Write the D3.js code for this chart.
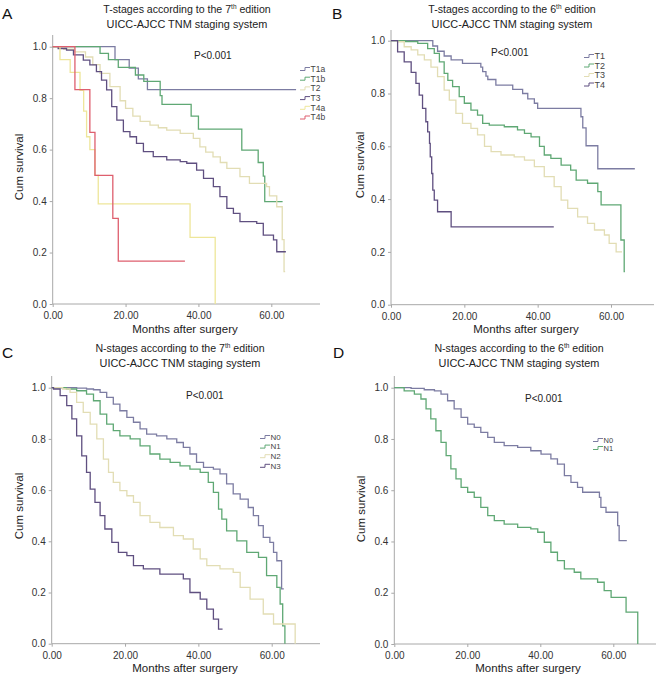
<!DOCTYPE html>
<html><head><meta charset="utf-8">
<script src="https://cdn.jsdelivr.net/npm/d3@7"></script>
<style>body{margin:0;background:#fff}svg{display:block;font-family:"Liberation Sans",Arial,sans-serif}</style>
</head><body><svg id="c" width="662" height="678"></svg>
<script>
// ---- Data: [months, cumulative survival] step points ----
const xTicks = [0, 20, 40, 60];
const xTickLabels = ["0.00", "20.00", "40.00", "60.00"];
const yTicks = [0, 0.2, 0.4, 0.6, 0.8, 1.0];
const yTickLabels = ["0.0", "0.2", "0.4", "0.6", "0.8", "1.0"];
const pLabel = "P<0.001";

const A_T1a = [[0,1],[17.1,0.95],[21,0.917],[23.5,0.875],[26,0.833],[66.8,0.833]];
const A_T1b = [[0,1],[13,0.974],[15.3,0.95],[18,0.92],[22.7,0.89],[25,0.865],[29.5,0.81],[30,0.776],[38,0.73],[40,0.68],[51.9,0.598],[56.4,0.55],[57.8,0.497],[58.2,0.398],[63.1,0.398]];
const A_T2 = [[0,1],[3,0.99],[6,0.98],[9,0.96],[11,0.93],[13,0.896],[15.7,0.845],[18.5,0.79],[20,0.76],[22,0.73],[24,0.71],[26.7,0.695],[29,0.685],[31.3,0.676],[35,0.663],[38.6,0.644],[40.4,0.611],[42,0.59],[44,0.572],[46,0.55],[47.8,0.527],[51.4,0.495],[54,0.469],[58.7,0.456],[59.5,0.42],[61.5,0.378],[63,0.25],[63.5,0.126],[63.8,0.126]];
const A_T3 = [[0,1],[1.5,0.993],[3.8,0.987],[5.7,0.968],[8.4,0.948],[10.2,0.929],[12,0.903],[13.4,0.87],[14.8,0.832],[16.2,0.767],[17.6,0.715],[19.4,0.67],[21.2,0.65],[23,0.624],[24.9,0.592],[27.6,0.573],[31.3,0.56],[35,0.553],[36.8,0.547],[39.5,0.52],[41.4,0.488],[44.1,0.456],[45.9,0.417],[47.8,0.372],[49.6,0.352],[51.4,0.32],[56,0.313],[57.8,0.268],[60.6,0.249],[61.5,0.203],[64,0.203]];
const A_T4a = [[0,1],[2,0.95],[4.8,0.9],[7.5,0.83],[8.5,0.75],[9.3,0.65],[10.2,0.6],[11.6,0.5],[12.5,0.389],[37.7,0.259],[44.6,0]];
const A_T4b = [[0,1],[6.1,0.833],[10.2,0.667],[11.6,0.5],[16.5,0.333],[18,0.167],[36.3,0.167]];

const B_T1 = [[0,1],[11.4,0.98],[12.7,0.96],[14.5,0.942],[16.4,0.927],[19.5,0.914],[24.5,0.9],[25,0.883],[25.9,0.866],[26.4,0.853],[28.6,0.832],[33.2,0.816],[35.9,0.8],[37.3,0.78],[39.1,0.763],[40,0.744],[51.8,0.712],[52.3,0.67],[53.2,0.602],[56.4,0.515],[66.5,0.515]];
const B_T2 = [[0,1],[4,0.997],[7.3,0.99],[10,0.97],[11.8,0.952],[13.2,0.92],[14.5,0.876],[15.5,0.85],[16.8,0.826],[18.6,0.788],[20,0.763],[21.8,0.737],[23.6,0.718],[25,0.687],[26.8,0.68],[30.9,0.674],[34.5,0.662],[36.4,0.649],[38.2,0.636],[40.5,0.6],[41.8,0.567],[43.6,0.554],[46.4,0.529],[49,0.51],[50.5,0.472],[53.6,0.46],[56.4,0.428],[57.3,0.378],[62.7,0.245],[63.6,0.125],[63.8,0.125]];
const B_T3 = [[0,1],[1.8,0.996],[3.6,0.977],[5.5,0.965],[7.3,0.946],[9.1,0.927],[10.9,0.9],[12.7,0.864],[14.5,0.813],[15.9,0.775],[17.7,0.725],[19.5,0.687],[21.8,0.668],[23.6,0.643],[25.5,0.6],[27.3,0.58],[30,0.567],[33.6,0.56],[36.4,0.548],[39.1,0.523],[41.8,0.485],[44.5,0.447],[46.4,0.396],[48.2,0.365],[50.9,0.333],[53.6,0.308],[55.5,0.283],[58.2,0.264],[59.5,0.232],[61.4,0.2],[63,0.2]];
const B_T4 = [[0,1],[1.8,0.958],[3.6,0.92],[5.5,0.88],[6.8,0.838],[7.7,0.794],[8.6,0.744],[9.5,0.693],[10,0.655],[10.5,0.611],[10.7,0.56],[11.1,0.497],[11.4,0.434],[11.8,0.396],[12.7,0.352],[16.4,0.295],[44.4,0.295]];

const C_N0 = [[0,1],[6.8,0.998],[9.5,0.995],[11.4,0.992],[13.2,0.982],[15,0.962],[16.8,0.936],[18.6,0.91],[20.5,0.884],[22.3,0.865],[24.1,0.839],[25.9,0.819],[28.6,0.812],[31.4,0.8],[34.1,0.786],[35.9,0.767],[37.7,0.741],[39.5,0.708],[41.4,0.689],[44.1,0.682],[45.9,0.663],[47.7,0.624],[49.5,0.585],[51.4,0.565],[53.6,0.532],[55,0.5],[56.4,0.461],[57.7,0.415],[59.5,0.396],[60.5,0.357],[61.4,0.324],[62.7,0.214],[63.3,0.214]];
const C_N1 = [[0,1],[4,0.995],[6.8,0.988],[9.5,0.975],[11.4,0.949],[13.2,0.897],[15,0.858],[16.8,0.832],[18.6,0.812],[21.4,0.8],[24.1,0.773],[26.8,0.741],[29.5,0.721],[32.3,0.708],[35,0.695],[37.7,0.682],[40.5,0.669],[42.7,0.63],[44.1,0.591],[45.5,0.526],[46.4,0.487],[47.7,0.441],[50.5,0.402],[53.2,0.357],[56.4,0.337],[58.6,0.266],[61.4,0.22],[62.3,0.155],[63,0.07],[63.6,0]];
const C_N2 = [[0,1],[3,0.995],[5,0.982],[6.8,0.943],[8.6,0.904],[10.5,0.858],[12.3,0.8],[14.1,0.721],[15.5,0.669],[16.8,0.63],[18.6,0.598],[20.5,0.578],[22.3,0.552],[24.1,0.5],[26.8,0.474],[29.5,0.454],[33.2,0.422],[35.9,0.409],[38.6,0.37],[40.5,0.331],[42.3,0.305],[45.9,0.292],[49.5,0.279],[51.4,0.22],[54.1,0.174],[57.7,0.116],[60.5,0.077],[66.4,0]];
const C_N3 = [[0,1],[0.5,0.995],[2.3,0.969],[4.1,0.93],[5.5,0.878],[6.8,0.812],[8.2,0.734],[9.5,0.669],[10.5,0.604],[11.8,0.552],[13.2,0.5],[14.5,0.448],[16.4,0.396],[18.2,0.357],[20.5,0.344],[22.3,0.305],[25,0.292],[29.5,0.272],[35.9,0.253],[37.7,0.2],[40.5,0.174],[42.3,0.135],[44.1,0.096],[45.5,0.057],[46.6,0.057]];

const D_N0 = [[0,1],[4.6,0.997],[8.2,0.992],[11,0.988],[12.8,0.975],[14.6,0.949],[16.4,0.917],[18.3,0.884],[20.1,0.858],[21.9,0.845],[23.7,0.826],[25.6,0.806],[27.4,0.787],[30.1,0.774],[33.8,0.767],[37.4,0.754],[40.2,0.741],[42.9,0.722],[44.7,0.702],[46.6,0.657],[48.4,0.631],[50.2,0.611],[51.6,0.592],[56.2,0.572],[56.6,0.533],[58,0.514],[61.2,0.462],[61.6,0.403],[63.7,0.403]];
const D_N1 = [[0,1],[2.7,0.988],[5.5,0.975],[7.3,0.956],[8.7,0.917],[10,0.878],[11.4,0.832],[12.8,0.787],[14.2,0.735],[15.5,0.683],[16.9,0.644],[18.3,0.611],[20.1,0.592],[21.9,0.572],[23.7,0.533],[25.6,0.501],[27.4,0.481],[30.1,0.468],[33.8,0.455],[37.4,0.449],[39.3,0.436],[41.1,0.397],[42.9,0.358],[44.7,0.325],[46.6,0.293],[49.3,0.28],[51.1,0.254],[55.7,0.241],[57.5,0.208],[59.4,0.182],[63.5,0.124],[66.7,0]];

const COL = {blue:"#7c7ca2", green:"#5fa874", beige:"#e2ddb4", purple:"#5f4f80", yellow:"#eee69a", red:"#de5f6e"};

const panels = [
  {letter:"A", lx:2, ly:19, title:["T-stages according to the 7","th"," edition"], title2:"UICC-AJCC TNM staging system", tcx:187, ty:13,
   x0:52.7, x60:271.3, xEnd:320, y0:304, y1:46.7, yTop:35, px:194, py:59,
   leg:{x:300, y:69, dy:9.7, fs:8.5},
   series:[["T1a",A_T1a,COL.blue],["T1b",A_T1b,COL.green],["T2",A_T2,COL.beige],["T3",A_T3,COL.purple],["T4a",A_T4a,COL.yellow],["T4b",A_T4b,COL.red]],
   ylx:23, yly:167, xlx:185, xly:333},
  {letter:"B", lx:332, ly:19, title:["T-stages according to the 6","th"," edition"], title2:"UICC-AJCC TNM staging system", tcx:512, ty:13,
   x0:391, x60:611, xEnd:654, y0:304.7, y1:40.7, yTop:30, px:491, py:56,
   leg:{x:584, y:56, dy:9.5, fs:9},
   series:[["T1",B_T1,COL.blue],["T2",B_T2,COL.green],["T3",B_T3,COL.beige],["T4",B_T4,COL.purple]],
   ylx:364, yly:165, xlx:526, xly:333},
  {letter:"C", lx:2, ly:358, title:["N-stages according to the 7","th"," edition"], title2:"UICC-AJCC TNM staging system", tcx:180, ty:352,
   x0:51.7, x60:271.7, xEnd:320, y0:643.7, y1:387.7, yTop:376, px:186, py:399,
   leg:{x:260, y:437, dy:9.6, fs:8},
   series:[["N0",C_N0,COL.blue],["N1",C_N1,COL.green],["N2",C_N2,COL.beige],["N3",C_N3,COL.purple]],
   ylx:23, yly:506, xlx:185, xly:672},
  {letter:"D", lx:333, ly:358, title:["N-stages according to the 6","th"," edition"], title2:"UICC-AJCC TNM staging system", tcx:519, ty:352,
   x0:394.3, x60:613.3, xEnd:656, y0:644, y1:387.7, yTop:376, px:525, py:402,
   leg:{x:593, y:440, dy:8, fs:7.5},
   series:[["N0",D_N0,COL.blue],["N1",D_N1,COL.green]],
   ylx:365, yly:509, xlx:528, xly:672}
];

const svg = d3.select("#c");
const axisCol = "#a8a8a8";

panels.forEach(p => {
  const x = d3.scaleLinear().domain([0, 60]).range([p.x0, p.x60]);
  const y = d3.scaleLinear().domain([0, 1]).range([p.y0, p.y1]);
  const g = svg.append("g");

  g.append("text").attr("x", p.lx).attr("y", p.ly).attr("font-size", 15.5).attr("fill", "#111").text(p.letter);
  const t1 = g.append("text").attr("x", p.tcx).attr("y", p.ty).attr("text-anchor", "middle").attr("font-size", 10.6).attr("fill", "#222");
  t1.append("tspan").text(p.title[0]);
  t1.append("tspan").attr("font-size", 6.5).attr("dy", -4).text(p.title[1]);
  t1.append("tspan").attr("dy", 4).text(p.title[2]);
  g.append("text").attr("x", p.tcx).attr("y", p.ty + 14.5).attr("text-anchor", "middle").attr("font-size", 10.9).attr("fill", "#222").text(p.title2);

  // axes
  const xAxis = d3.axisBottom(x).tickValues(xTicks).tickFormat((d, i) => xTickLabels[i]).tickSize(3).tickSizeOuter(0);
  const yAxis = d3.axisLeft(y).tickValues(yTicks).tickFormat((d, i) => yTickLabels[i]).tickSize(3).tickSizeOuter(0);
  const gx = g.append("g").attr("transform", `translate(0,${p.y0})`).call(xAxis);
  const gy = g.append("g").attr("transform", `translate(${p.x0},0)`).call(yAxis);
  [gx, gy].forEach(a => {
    a.select(".domain").remove();
    a.selectAll(".tick line").attr("stroke", axisCol);
    a.selectAll(".tick text").attr("font-size", 10).attr("fill", "#333").attr("font-family", '"Liberation Sans",Arial,sans-serif');
  });
  gx.selectAll(".tick text").attr("dy", "0.9em");
  g.append("line").attr("x1", p.x0).attr("x2", p.xEnd).attr("y1", p.y0).attr("y2", p.y0).attr("stroke", axisCol);
  g.append("line").attr("x1", p.x0).attr("x2", p.x0).attr("y1", p.y0).attr("y2", p.yTop).attr("stroke", axisCol);

  g.append("text").attr("transform", `translate(${p.ylx},${p.yly}) rotate(-90)`).attr("text-anchor", "middle")
    .attr("font-size", 11.5).attr("fill", "#222").text("Cum survival");
  g.append("text").attr("x", p.xlx).attr("y", p.xly).attr("text-anchor", "middle")
    .attr("font-size", 11.5).attr("fill", "#222").text("Months after surgery");
  g.append("text").attr("x", p.px).attr("y", p.py).attr("font-size", 10).attr("fill", "#222").text(pLabel);

  const line = d3.line().x(d => x(d[0])).y(d => y(d[1])).curve(d3.curveStepAfter);
  p.series.forEach(([name, data, col]) => {
    g.append("path").attr("d", line(data)).attr("fill", "none").attr("stroke", col).attr("stroke-width", 1.3);
  });

  // legend
  p.series.forEach(([name, data, col], i) => {
    const ly = p.leg.y + i * p.leg.dy;
    g.append("path").attr("d", `M${p.leg.x},${ly + 1.5}h5v-3h5`).attr("fill", "none").attr("stroke", col).attr("stroke-width", 1);
    g.append("text").attr("x", p.leg.x + 10.5).attr("y", ly + p.leg.fs * 0.35).attr("font-size", p.leg.fs).attr("fill", "#444").text(name);
  });
});
</script></body></html>
